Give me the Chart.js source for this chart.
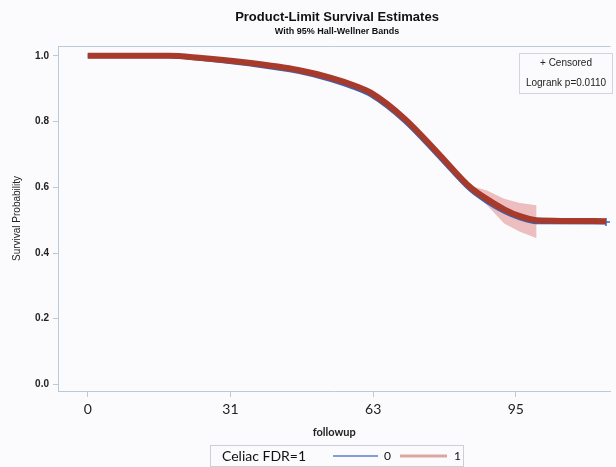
<!DOCTYPE html>
<html>
<head>
<meta charset="utf-8">
<script src="https://cdn.jsdelivr.net/npm/chart.js@4"></script>
<style>
  body { margin: 0; background: #fbfbfd; }
  canvas { display: block; }
</style>
</head>
<body>
<canvas id="kmChart" width="616" height="467"></canvas>
<script>
// dados
const followup = [0, 18.1, 24.7, 35.7, 46.7, 54.0, 59.3, 62.8, 70.3, 77.6, 84.9, 88.6, 92.4, 95.9, 99.6, 115];
const survFdr1 = [1.0, 1.0, 0.994, 0.979, 0.957, 0.933, 0.909, 0.888, 0.809, 0.706, 0.600, 0.564, 0.533, 0.512, 0.500, 0.497];
const survFdr0 = [1.0, 1.0, 0.993, 0.976, 0.953, 0.928, 0.903, 0.882, 0.803, 0.700, 0.594, 0.557, 0.527, 0.507, 0.495, 0.494];
const bandTime = [84.9, 88.6, 92.4, 95.9, 99.6];
const bandUpper = [0.605, 0.590, 0.565, 0.552, 0.545];
const bandLower = [0.595, 0.545, 0.490, 0.465, 0.445];
const xTickValues = [0, 31.67, 63.33, 95];
const xTickLabels = ['0', '31', '63', '95'];
const yTickValues = [0, 0.2, 0.4, 0.6, 0.8, 1.0];

const frameColor = '#b9cbd8';
const redLine = '#a83a2c';
const blueLine = '#3d63b0';

const toPoints = (xs, ys) => xs.map((x, i) => ({ x: x, y: ys[i] }));

// --- textos e caixas desenhados à mão ---
const decorPlugin = {
    id: 'decor',
    afterDraw(chart) {
        const ctx = chart.ctx;
        const area = chart.chartArea;
        ctx.save();

        // linha superior da moldura
        ctx.strokeStyle = frameColor;
        ctx.lineWidth = 1;
        ctx.beginPath();
        ctx.moveTo(area.left, area.top + 0.5);
        ctx.lineTo(area.right, area.top + 0.5);
        ctx.stroke();

        // títulos
        ctx.fillStyle = '#111';
        ctx.textAlign = 'center';
        ctx.textBaseline = 'middle';
        ctx.font = 'bold 13px "Liberation Sans", Arial, sans-serif';
        ctx.fillText('Product-Limit Survival Estimates', 337, 17);
        ctx.font = 'bold 9px "Liberation Sans", Arial, sans-serif';
        ctx.fillText('With 95% Hall-Wellner Bands', 337, 32);

        // caixa de censura / logrank
        ctx.strokeStyle = '#d0d6dc';
        ctx.strokeRect(519.5, 53.5, 93, 40);
        ctx.fillStyle = '#222';
        ctx.font = '10px "Liberation Sans", Arial, sans-serif';
        ctx.fillText('+ Censored', 566, 63);
        ctx.fillText('Logrank p=0.0110', 566, 83);

        // legenda de baixo
        ctx.strokeStyle = '#c9d0d8';
        ctx.strokeRect(210.5, 445.5, 253, 21);
        ctx.textAlign = 'left';
        ctx.fillStyle = '#111';
        ctx.font = '14px Lato, "Open Sans", sans-serif';
        ctx.fillText('Celiac FDR=1', 222, 456);
        ctx.lineWidth = 2;
        ctx.strokeStyle = '#7f9fd6';
        ctx.beginPath(); ctx.moveTo(333, 456); ctx.lineTo(378, 456); ctx.stroke();
        ctx.lineWidth = 3;
        ctx.strokeStyle = '#dba7a3';
        ctx.beginPath(); ctx.moveTo(400, 456); ctx.lineTo(447, 456); ctx.stroke();
        ctx.font = '12px Lato, "Open Sans", sans-serif';
        ctx.fillText('0', 384, 456);
        ctx.fillText('1', 454, 456);
        ctx.restore();
    }
};

const lastIdx = followup.length - 1;

new Chart(document.getElementById('kmChart'), {
    type: 'line',
    data: {
        datasets: [
            {
                label: '1',
                data: toPoints(followup, survFdr1),
                borderColor: redLine,
                borderWidth: 6,
                cubicInterpolationMode: 'monotone',
                pointRadius: 0,
                order: 0
            },
            {
                label: '0',
                data: toPoints(followup, survFdr0),
                borderColor: blueLine,
                borderWidth: 5,
                cubicInterpolationMode: 'monotone',
                pointRadius: followup.map((_, i) => i === lastIdx ? 4 : 0),
                pointStyle: 'cross',
                pointBorderColor: blueLine,
                pointBorderWidth: 1.5,
                order: 1
            },
            {
                label: 'upper',
                data: toPoints(bandTime, bandUpper),
                borderWidth: 0,
                pointRadius: 0,
                fill: '+1',
                backgroundColor: 'rgba(226, 140, 140, 0.55)',
                order: 2
            },
            {
                label: 'lower',
                data: toPoints(bandTime, bandLower),
                borderWidth: 0,
                pointRadius: 0,
                fill: false,
                order: 3
            }
        ]
    },
    options: {
        responsive: false,
        animation: false,
        layout: { padding: { top: 46, right: 2 } },
        plugins: {
            legend: { display: false },
            tooltip: { enabled: false },
            title: { display: false }
        },
        scales: {
            x: {
                type: 'linear',
                min: -6.6,
                max: 116,
                afterFit: (scale) => { scale.height = 76; },
                afterBuildTicks: (scale) => { scale.ticks = xTickValues.map(v => ({ value: v })); },
                ticks: {
                    autoSkip: false,
                    maxRotation: 0,
                    padding: 4,
                    color: '#222',
                    font: { family: 'Lato, "Open Sans", sans-serif', size: 14 },
                    callback: (value, index) => xTickLabels[index]
                },
                grid: { drawOnChartArea: false, drawTicks: true, tickLength: 6, color: frameColor },
                border: { display: true, color: frameColor },
                title: {
                    display: true,
                    text: 'followup',
                    color: '#222',
                    padding: { top: 0, bottom: 28 },
                    font: { family: 'Lato, "Open Sans", sans-serif', size: 11, weight: 'bold' }
                }
            },
            y: {
                min: -0.02,
                max: 1.03,
                afterFit: (scale) => { scale.width = 58; },
                afterBuildTicks: (scale) => { scale.ticks = yTickValues.map(v => ({ value: v })); },
                ticks: {
                    padding: 4,
                    color: '#222',
                    font: { family: '"Liberation Sans", Arial, sans-serif', size: 10, weight: 'bold' },
                    callback: (value) => value.toFixed(1)
                },
                grid: { drawOnChartArea: false, drawTicks: true, tickLength: 5, color: frameColor },
                border: { display: true, color: frameColor },
                title: {
                    display: true,
                    text: 'Survival Probability',
                    color: '#222',
                    padding: { top: 11, bottom: 0 },
                    font: { family: '"Liberation Sans", Arial, sans-serif', size: 10 }
                }
            }
        }
    },
    plugins: [decorPlugin]
});
</script>
</body>
</html>
